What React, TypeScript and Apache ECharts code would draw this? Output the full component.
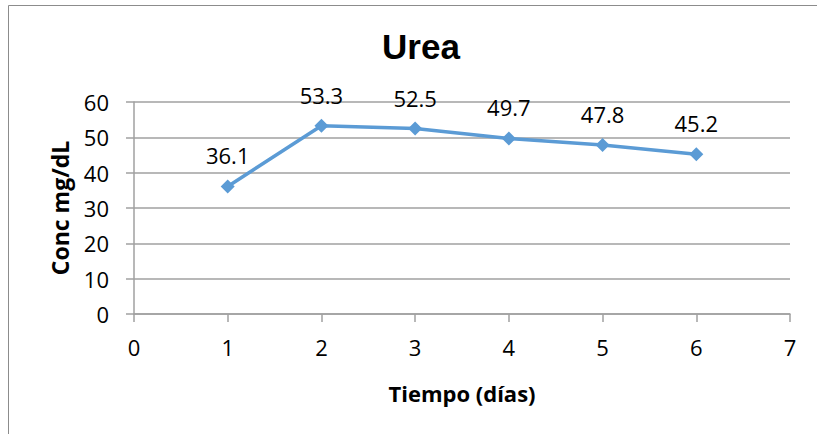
import React, { useEffect, useRef } from "react";
import * as echarts from "echarts";

const days = [1, 2, 3, 4, 5, 6];
const urea = [36.1, 53.3, 52.5, 49.7, 47.8, 45.2];
const titleText = "Urea";
const xName = "Tiempo (días)";
const yName = "Conc mg/dL";

const FONT = "'Open Sans', 'Noto Sans', sans-serif";

export default function App() {
  const ref = useRef<HTMLDivElement>(null);
  useEffect(() => {
    document.body.style.margin = "0";
    const chart = echarts.init(ref.current!, null, { renderer: "svg" });
    chart.setOption({
      animation: false,
      backgroundColor: "#ffffff",
      textStyle: { fontFamily: FONT },
      title: {
        text: titleText,
        left: 416,
        top: 24,
        textAlign: "center",
        textStyle: {
          fontSize: 35,
          fontWeight: "bold",
          color: "#000",
          fontFamily: "'Liberation Sans', Arial, sans-serif",
        },
      },
      graphic: [
        {
          type: "line",
          shape: { x1: 8.5, y1: 5.5, x2: 8.5, y2: 434 },
          style: { stroke: "#8c8c8c", lineWidth: 1 },
          silent: true,
        },
        {
          type: "line",
          shape: { x1: 8.5, y1: 5.5, x2: 817, y2: 5.5 },
          style: { stroke: "#8c8c8c", lineWidth: 1 },
          silent: true,
        },
      ],
      grid: { left: 134, right: 27, top: 102, bottom: 120 },
      xAxis: {
        type: "value",
        min: 0,
        max: 7,
        interval: 1,
        name: xName,
        nameLocation: "middle",
        nameGap: 68,
        nameTextStyle: { fontSize: 22, fontWeight: "bold", color: "#000", fontFamily: FONT },
        axisLine: { show: true, onZero: false, lineStyle: { color: "#a0a0a0", width: 1.5 } },
        axisTick: { show: true, length: 8, inside: false, lineStyle: { color: "#a0a0a0", width: 1.5 } },
        axisLabel: { fontSize: 22, color: "#000", margin: 22, fontFamily: FONT },
        splitLine: { show: false },
      },
      yAxis: {
        type: "value",
        min: 0,
        max: 60,
        interval: 10,
        name: yName,
        nameLocation: "middle",
        nameGap: 63,
        nameRotate: 90,
        nameTextStyle: { fontSize: 23, fontWeight: "bold", color: "#000", fontFamily: FONT },
        axisLine: { show: true, lineStyle: { color: "#a0a0a0", width: 1.5 } },
        axisTick: { show: true, length: 8, inside: false, lineStyle: { color: "#a0a0a0", width: 1.5 } },
        axisLabel: { fontSize: 22, color: "#000", margin: 25, fontFamily: FONT },
        splitLine: { show: true, lineStyle: { color: "#a0a0a0", width: 1.5 } },
      },
      series: [
        {
          type: "line",
          data: days.map((d, i) => [d, urea[i]]),
          symbol: "diamond",
          symbolSize: 14,
          itemStyle: { color: "#5b9bd5" },
          lineStyle: { color: "#5b9bd5", width: 3.5 },
          label: {
            show: true,
            position: "top",
            distance: 13,
            fontSize: 22,
            color: "#000",
            fontFamily: FONT,
            formatter: (p: any) => p.value[1].toFixed(1),
          },
        },
      ],
    });
    return () => chart.dispose();
  }, []);
  return <div ref={ref} style={{ width: 817, height: 434 }} />;
}
